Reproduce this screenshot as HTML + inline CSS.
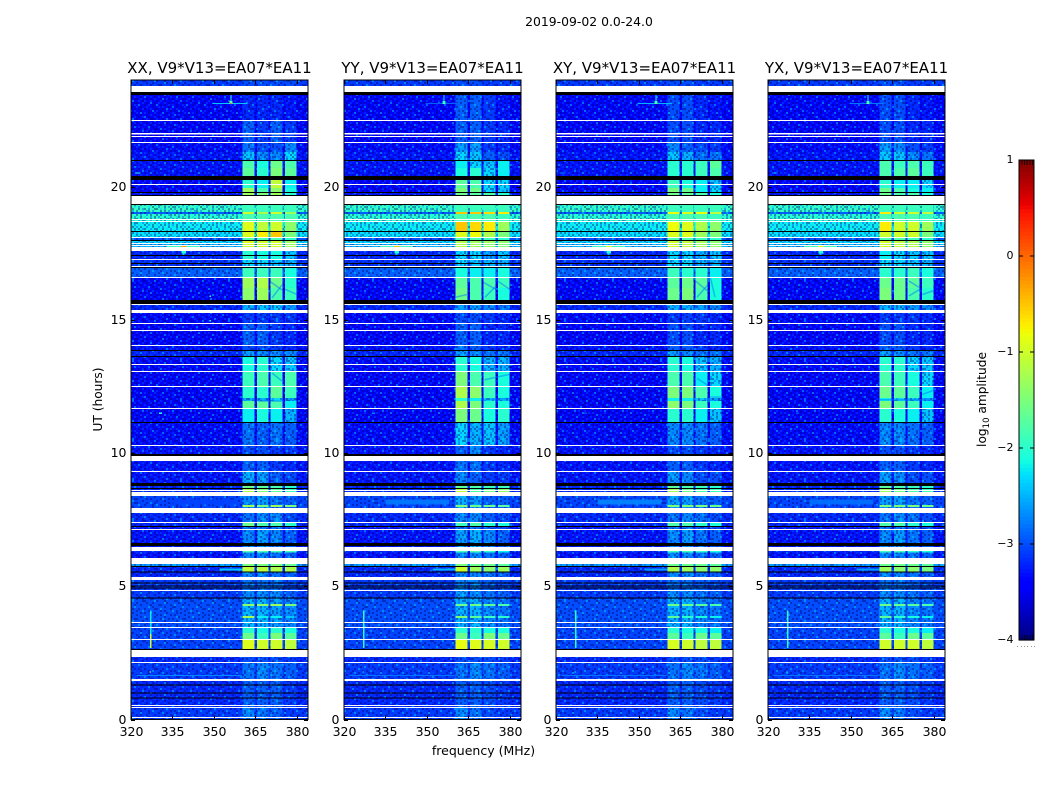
<!DOCTYPE html>
<html lang="en">
<head>
<meta charset="utf-8">
<title>2019-09-02 amplitude waterfall</title>
<style>
html,body{margin:0;padding:0;background:#fff;}
svg{display:block;}
text{font-family:"DejaVu Sans","Liberation Sans",sans-serif;fill:#000;}
</style>
</head>
<body>
<svg id="figure" xmlns="http://www.w3.org/2000/svg" width="1050" height="800" viewBox="0 0 1050 800">
  <rect x="0" y="0" width="1050" height="800" fill="#fff"/>
  <text x="589" y="26" font-size="12.4" text-anchor="middle">2019-09-02 0.0-24.0</text>
  <text x="0" y="0" font-size="12.2" text-anchor="middle" transform="translate(102 399.5) rotate(-90)">UT (hours)</text>
  <text x="483.5" y="755" font-size="12.5" text-anchor="middle">frequency (MHz)</text>
  <text x="0" y="0" font-size="12.2" text-anchor="middle" transform="translate(986 399.5) rotate(-90)">log<tspan font-size="8.5" dy="3">10</tspan><tspan dy="-3"> amplitude</tspan></text>
  <defs><pattern id="speckle" patternUnits="userSpaceOnUse" width="48" height="40"></pattern></defs>
</svg>
<script>
// ---------- chart data ----------
const panelTitles = ["XX, V9*V13=EA07*EA11","YY, V9*V13=EA07*EA11","XY, V9*V13=EA07*EA11","YX, V9*V13=EA07*EA11"];
const freqTicks = [320,335,350,365,380];
const hourTicks = [0,5,10,15,20];
const colorbarTicks = [1,0,-1,-2,-3,-4];
const blockStartMHz = [360.4,365.5,370.5,375.6];
const blockEndMHz = [364.7,369.8,374.8,379.9];
// Upper edge (UT hours) of each time row; a row runs down to the next entry.
const timeRowTop = [
24.00,23.55,22.50,21.64,21.30,20.96,20.70,20.40,20.25,19.95,
19.76,19.31,19.05,18.97,18.67,18.30,18.07,17.96,17.85,17.58,
17.25,16.95,16.57,16.20,15.74,15.56,15.26,14.84,14.06,13.83,
13.61,13.04,12.48,12.07,11.95,11.65,11.13,10.27,9.97,9.70,
9.29,8.77,8.67,8.39,8.05,7.98,7.75,7.38,7.26,7.11,
6.33,6.26,6.07,5.83,5.72,5.54,5.35,4.82,4.52,4.33,
4.26,3.88,3.81,3.43,3.25,2.99,2.65,2.12,1.44,0.43];
// log10 amplitude of the off-band background in each row.
const backgroundLevels = [
-3.1,-3.45,-3.4,-3.35,-3.3,-3.3,-3.3,-3.4,-3.4,-3.4,
-3.3,-1.95,-2.9,-2.0,-2.2,-2.25,-3.0,-2.3,-2.5,-3.2,
-3.15,-2.9,-3.4,-3.4,-3.3,-3.2,-3.35,-3.4,-3.3,-3.2,
-3.35,-3.4,-3.4,-3.4,-3.4,-3.4,-3.35,-3.3,-3.3,-3.3,
-3.3,-3.2,-3.2,-3.05,-3.05,-3.05,-3.2,-3.2,-3.3,-3.3,
-3.2,-3.3,-3.3,-2.6,-3.2,-3.2,-3.1,-3.1,-3.0,-3.0,
-3.0,-3.0,-3.0,-3.05,-3.05,-3.05,-3.2,-3.1,-3.2,-3.1];
// log10 amplitude of the four correlator sub-bands, row by row.
const blocksXX = [
[-3.0,-3.0,-3.0,-3.0],[-3.2,-3.2,-3.2,-3.3],[-2.9,-3.1,-2.9,-3.1],[-2.8,-3.0,-3.0,-2.7],[-2.4,-2.7,-2.7,-2.3],[-1.8,-2.1,-1.6,-1.8],[-1.7,-2.0,-1.5,-1.7],[-2.0,-2.2,-1.6,-2.2],[-2.0,-2.2,-1.1,-2.2],[-1.3,-1.8,-1.4,-2.1],
[-1.3,-1.5,-1.3,-2.0],[-1.9,-1.9,-1.9,-1.9],[-1.0,-1.2,-1.0,-1.3],[-1.8,-1.8,-1.8,-1.8],[-0.9,-1.1,-1.0,-1.4],[-0.9,-0.7,-0.5,-1.5],[-1.8,-1.8,-1.8,-2.0],[-0.9,-1.0,-1.0,-1.3],[-1.0,-1.0,-1.0,-1.3],[-2.0,-2.1,-2.1,-2.4],
[-2.3,-2.3,-2.4,-2.5],[-1.9,-1.9,-1.9,-2.1],[-1.3,-1.2,-1.6,-2.0],[-1.4,-1.3,-1.8,-1.9],[-2.5,-2.5,-2.5,-2.6],[-2.5,-2.4,-2.4,-2.6],[-3.1,-3.1,-3.1,-3.1],[-2.9,-2.9,-3.1,-3.2],[-3.0,-3.0,-3.1,-3.2],[-2.6,-2.7,-2.7,-2.7],
[-2.1,-2.0,-2.3,-2.4],[-1.9,-1.8,-1.9,-1.8],[-2.0,-2.0,-1.7,-1.9],[-2.5,-2.6,-2.3,-2.6],[-1.7,-1.7,-1.8,-2.2],[-2.2,-2.1,-2.2,-2.5],[-2.8,-2.9,-2.8,-2.9],[-3.0,-3.0,-3.1,-3.1],[-3.0,-3.0,-3.1,-3.1],[-2.9,-2.9,-3.1,-3.2],
[-2.5,-2.6,-2.9,-3.0],[-1.6,-1.7,-1.8,-2.0],[-1.2,-1.5,-1.7,-1.9],[-2.7,-2.6,-2.8,-2.9],[-1.3,-1.5,-1.3,-1.5],[-2.7,-2.6,-2.8,-2.9],[-2.8,-2.7,-2.7,-3.0],[-1.6,-1.8,-1.8,-2.0],[-2.8,-2.8,-2.8,-3.0],[-2.7,-2.6,-2.7,-2.9],
[-1.8,-1.8,-1.9,-1.9],[-2.7,-2.7,-2.8,-2.9],[-2.7,-2.7,-2.8,-2.9],[-1.5,-1.5,-1.5,-1.6],[-1.1,-1.1,-1.2,-1.2],[-2.7,-2.7,-2.8,-2.9],[-2.8,-2.8,-2.8,-3.0],[-2.7,-2.7,-2.7,-2.9],[-2.5,-2.5,-2.6,-2.7],[-1.4,-1.4,-1.3,-1.5],
[-2.5,-2.5,-2.6,-2.7],[-1.3,-2.2,-2.2,-2.4],[-2.5,-2.5,-2.6,-2.7],[-2.0,-2.1,-2.0,-2.1],[-1.6,-1.9,-1.5,-1.7],[-0.9,-1.0,-1.0,-1.1],[-3.0,-3.0,-3.0,-3.1],[-2.8,-2.7,-2.8,-2.9],[-2.9,-2.9,-2.9,-3.1],[-2.7,-2.8,-2.9,-3.1]];
const blocksYY = [
[-3.0,-3.0,-3.1,-3.1],[-2.9,-2.9,-3.1,-3.3],[-2.9,-2.9,-3.1,-3.2],[-2.6,-2.6,-3.1,-3.2],[-2.3,-2.4,-2.9,-3.0],[-2.2,-2.3,-2.4,-2.2],[-2.1,-2.0,-2.3,-2.2],[-2.1,-2.2,-2.3,-2.3],[-1.7,-1.8,-2.3,-2.3],[-1.5,-1.6,-2.3,-2.4],
[-1.6,-1.7,-1.8,-2.0],[-1.9,-1.9,-1.9,-1.9],[-0.5,-0.5,-0.6,-0.7],[-1.8,-1.8,-1.8,-1.9],[-0.5,-0.6,-0.7,-1.3],[-0.9,-0.8,-1.2,-1.5],[-1.8,-1.8,-1.9,-2.0],[-1.2,-1.3,-1.3,-1.4],[-1.2,-1.3,-1.4,-1.5],[-2.3,-2.3,-2.6,-2.4],
[-2.3,-2.4,-2.5,-2.5],[-2.1,-2.2,-2.2,-2.1],[-1.7,-1.8,-1.8,-1.9],[-1.6,-1.8,-1.9,-2.1],[-2.5,-2.5,-2.6,-2.6],[-2.6,-2.6,-2.7,-2.8],[-3.0,-3.0,-3.1,-3.2],[-2.9,-2.9,-3.2,-3.2],[-2.8,-2.9,-3.1,-3.2],[-2.6,-2.7,-2.8,-2.8],
[-2.0,-2.1,-2.5,-2.5],[-1.5,-1.8,-1.9,-2.1],[-1.2,-1.4,-1.9,-2.1],[-2.0,-2.2,-2.3,-2.5],[-1.2,-1.5,-2.0,-2.1],[-1.5,-1.6,-2.1,-2.0],[-2.3,-2.5,-2.4,-2.6],[-2.9,-2.7,-3.1,-3.2],[-2.9,-2.7,-3.1,-3.2],[-2.8,-2.8,-3.1,-3.2],
[-2.7,-2.9,-3.1,-3.1],[-1.7,-1.8,-1.9,-1.9],[-1.1,-1.8,-1.6,-1.4],[-2.5,-2.6,-2.9,-2.9],[-1.5,-1.6,-1.6,-1.7],[-2.5,-2.6,-2.9,-2.9],[-2.7,-2.7,-2.9,-3.0],[-1.9,-1.8,-2.0,-2.1],[-2.8,-2.8,-2.9,-3.0],[-2.6,-2.5,-2.7,-2.9],
[-1.9,-1.8,-2.0,-2.2],[-2.7,-2.7,-2.8,-2.9],[-2.7,-2.7,-2.8,-2.9],[-1.5,-1.6,-1.6,-1.7],[-1.0,-1.3,-1.4,-1.3],[-2.7,-2.7,-2.8,-2.9],[-2.7,-2.7,-2.9,-3.0],[-2.6,-2.7,-2.8,-2.9],[-2.5,-2.5,-2.7,-2.8],[-1.6,-1.6,-1.7,-1.8],
[-2.5,-2.5,-2.7,-2.8],[-1.5,-1.7,-1.9,-2.0],[-2.5,-2.5,-2.7,-2.8],[-2.0,-2.0,-2.1,-2.1],[-1.6,-1.9,-1.5,-1.6],[-0.85,-0.9,-0.95,-1.0],[-3.0,-3.0,-3.0,-3.1],[-2.8,-2.7,-2.8,-2.9],[-2.9,-2.9,-3.0,-3.1],[-2.7,-2.8,-3.0,-3.1]];
const blocksXY = [
[-3.0,-3.0,-3.1,-3.1],[-3.0,-3.0,-3.2,-3.3],[-3.0,-3.0,-3.2,-3.2],[-2.7,-2.9,-3.0,-3.1],[-2.4,-2.5,-2.8,-2.8],[-2.0,-2.0,-1.9,-1.7],[-2.0,-2.0,-1.9,-1.8],[-2.1,-2.1,-2.2,-2.3],[-1.9,-2.1,-2.2,-2.4],[-1.5,-1.6,-2.2,-2.3],
[-1.6,-1.7,-1.8,-2.1],[-1.9,-1.9,-1.9,-1.9],[-0.8,-0.9,-0.8,-1.1],[-1.8,-1.8,-1.8,-1.9],[-0.8,-0.9,-1.2,-1.4],[-0.9,-0.9,-1.3,-1.5],[-1.8,-1.8,-1.9,-2.0],[-1.0,-1.1,-1.3,-1.4],[-1.0,-1.1,-1.3,-1.4],[-2.3,-2.3,-2.5,-2.4],
[-2.3,-2.3,-2.5,-2.5],[-1.9,-2.0,-2.0,-2.2],[-1.7,-1.6,-1.7,-2.1],[-1.6,-1.5,-1.8,-2.1],[-2.5,-2.5,-2.5,-2.6],[-2.5,-2.5,-2.6,-2.7],[-3.1,-3.1,-3.1,-3.2],[-3.0,-3.0,-3.2,-3.2],[-2.9,-2.9,-3.1,-3.2],[-2.6,-2.7,-2.8,-2.8],
[-2.0,-2.1,-2.4,-2.5],[-1.8,-1.8,-2.2,-2.3],[-1.5,-1.5,-1.8,-2.1],[-2.2,-2.2,-2.4,-2.6],[-1.4,-1.5,-1.9,-2.1],[-2.0,-2.0,-2.2,-2.4],[-2.7,-2.7,-2.8,-2.9],[-3.0,-3.0,-3.1,-3.2],[-3.0,-3.0,-3.1,-3.2],[-2.9,-2.9,-3.1,-3.2],
[-2.6,-2.7,-3.0,-3.0],[-1.7,-1.8,-1.9,-2.0],[-1.3,-1.6,-1.8,-1.9],[-2.6,-2.6,-2.8,-2.9],[-1.5,-1.5,-1.5,-1.6],[-2.6,-2.6,-2.8,-2.9],[-2.8,-2.7,-2.8,-3.0],[-1.8,-1.8,-2.0,-2.1],[-2.8,-2.8,-2.9,-3.0],[-2.7,-2.6,-2.8,-2.9],
[-1.9,-1.9,-2.0,-2.1],[-2.7,-2.7,-2.8,-2.9],[-2.7,-2.7,-2.8,-2.9],[-1.6,-1.6,-1.6,-1.7],[-1.2,-1.3,-1.4,-1.4],[-2.7,-2.7,-2.8,-2.9],[-2.8,-2.8,-2.9,-3.0],[-2.7,-2.7,-2.8,-2.9],[-2.5,-2.5,-2.7,-2.8],[-1.6,-1.6,-1.7,-1.8],
[-2.5,-2.5,-2.7,-2.8],[-1.7,-2.0,-2.1,-2.2],[-2.5,-2.5,-2.7,-2.8],[-2.0,-2.1,-2.1,-2.2],[-1.7,-1.9,-1.6,-1.7],[-0.95,-1.0,-1.1,-1.1],[-3.0,-3.0,-3.0,-3.1],[-2.8,-2.7,-2.8,-2.9],[-2.9,-2.9,-3.0,-3.1],[-2.7,-2.8,-3.0,-3.1]];
const blocksYX = [
[-3.0,-3.0,-3.1,-3.1],[-3.0,-3.0,-3.2,-3.3],[-3.0,-3.0,-3.2,-3.2],[-2.6,-2.7,-3.0,-3.1],[-2.4,-2.4,-2.7,-2.8],[-1.8,-1.9,-1.8,-1.9],[-1.8,-1.8,-1.7,-1.9],[-2.0,-2.1,-2.1,-2.2],[-2.0,-2.2,-2.2,-2.3],[-1.6,-1.8,-2.1,-2.2],
[-1.6,-1.8,-1.8,-2.1],[-1.9,-1.9,-1.9,-1.9],[-0.7,-1.0,-1.0,-1.1],[-1.8,-1.8,-1.8,-1.9],[-0.7,-1.0,-1.0,-1.3],[-1.0,-1.0,-1.0,-1.5],[-1.8,-1.8,-1.9,-2.0],[-1.0,-1.1,-1.2,-1.4],[-1.0,-1.1,-1.2,-1.4],[-2.2,-2.3,-2.4,-2.4],
[-2.3,-2.3,-2.4,-2.5],[-2.0,-2.0,-1.9,-2.1],[-1.6,-1.6,-1.7,-1.9],[-1.5,-1.6,-1.8,-2.0],[-2.5,-2.5,-2.5,-2.6],[-2.5,-2.5,-2.6,-2.7],[-3.1,-3.1,-3.1,-3.2],[-3.0,-3.0,-3.2,-3.2],[-2.9,-2.9,-3.1,-3.2],[-2.6,-2.7,-2.8,-2.8],
[-2.0,-2.0,-2.3,-2.4],[-1.8,-1.9,-2.1,-2.3],[-1.6,-1.7,-1.9,-2.2],[-2.2,-2.3,-2.4,-2.6],[-1.5,-1.7,-1.9,-2.2],[-2.0,-2.1,-2.2,-2.4],[-2.7,-2.7,-2.8,-2.9],[-3.0,-3.0,-3.1,-3.2],[-3.0,-3.0,-3.1,-3.2],[-2.9,-2.9,-3.1,-3.2],
[-2.6,-2.7,-3.0,-3.0],[-1.7,-1.8,-1.9,-2.0],[-1.3,-1.6,-1.8,-1.9],[-2.6,-2.6,-2.8,-2.9],[-1.5,-1.5,-1.5,-1.6],[-2.6,-2.6,-2.8,-2.9],[-2.8,-2.7,-2.8,-3.0],[-1.8,-1.8,-2.0,-2.1],[-2.8,-2.8,-2.9,-3.0],[-2.7,-2.6,-2.8,-2.9],
[-1.9,-1.9,-2.0,-2.1],[-2.7,-2.7,-2.8,-2.9],[-2.7,-2.7,-2.8,-2.9],[-1.6,-1.6,-1.6,-1.7],[-1.3,-1.4,-1.4,-1.5],[-2.7,-2.7,-2.8,-2.9],[-2.8,-2.8,-2.9,-3.0],[-2.7,-2.7,-2.8,-2.9],[-2.5,-2.5,-2.7,-2.8],[-1.6,-1.6,-1.7,-1.8],
[-2.5,-2.5,-2.7,-2.8],[-1.7,-2.0,-2.1,-2.2],[-2.5,-2.5,-2.7,-2.8],[-2.0,-2.1,-2.1,-2.2],[-1.7,-1.9,-1.6,-1.7],[-1.0,-1.0,-1.0,-1.1],[-3.0,-3.0,-3.0,-3.1],[-2.8,-2.7,-2.8,-2.9],[-2.9,-2.9,-3.0,-3.1],[-2.7,-2.8,-3.0,-3.1]];
// [top hour, bottom hour] of flagged (blank) integrations.
const blankRows = [
[23.77,23.55],[22.50,22.46],[22.01,21.95],[21.90,21.86],[21.67,21.63],[20.10,20.06],[19.65,19.35],[18.78,18.74],[18.71,18.67],[18.11,18.07],
[17.88,17.84],[17.81,17.77],[17.73,17.58],[17.28,17.24],[17.02,16.98],[16.61,16.57],[15.59,15.55],[15.36,15.32],[15.31,15.26],[14.88,14.84],
[14.62,14.58],[14.06,14.02],[13.34,13.30],[13.08,13.04],[12.52,12.48],[11.69,11.65],[10.30,10.26],[9.89,9.70],[9.32,9.28],[8.62,8.58],
[8.54,8.39],[7.94,7.75],[7.41,7.37],[7.15,7.11],[6.48,6.33],[6.06,5.83],[5.35,5.24],[4.86,4.82],[3.66,3.62],[3.47,3.43],
[3.02,2.98],[2.61,2.35],[2.16,2.12],[1.52,1.44],[0.55,0.51],[0.47,0.43],[0.10,0.06]];
// [top hour, bottom hour] of zero-amplitude (black) integrations.
const zeroRows = [
[23.55,23.44],[21.00,20.96],[20.40,20.25],[19.80,19.76],[19.69,19.65],[19.35,19.31],[18.33,18.29],[18.00,17.96],[17.44,17.40],[17.13,17.09],
[16.98,16.94],[15.74,15.59],[13.87,13.83],[13.64,13.60],[11.17,11.13],[9.97,9.89],[8.88,8.77],[8.69,8.65],[7.26,7.22],[6.63,6.52],
[5.76,5.72],[5.55,5.51],[5.14,5.10],[5.03,4.99],[4.95,4.91],[4.58,4.54],[2.65,2.61],[1.31,1.27],[1.01,0.97],[0.83,0.79]];
// Narrow RFI: [start MHz, end MHz, top hour, bottom hour, XX, YY, XY, YX log10 amp].
const rfiFeatures = [
[349.5,362,23.13,23.09,-2.4,-2.9,-2.5,-2.8],
[356.0,356.4,23.46,23.09,-2.0,-2.2,-2.1,-2.1],
[355.7,356.7,23.22,23.09,-1.6,-2.0,-1.9,-1.9],
[356.0,356.4,23.13,23.09,0.3,-1.3,-1.3,-1.3],
[321.5,323.5,20.52,20.49,-2.2,-3.0,-2.7,-2.7],
[333.0,345.0,17.77,17.73,-1.9,-1.9,-1.9,-1.9],
[338.0,340.0,17.77,17.73,-0.3,-0.5,-0.9,-0.9],
[338.2,339.8,17.58,17.48,-2.0,-2.0,-2.0,-2.0],
[338.7,339.3,17.48,17.42,-2.4,-2.4,-2.4,-2.4],
[326.9,327.4,4.10,3.20,-2.2,-2.0,-2.0,-2.0],
[326.9,327.4,3.20,2.68,-1.0,-2.0,-2.0,-2.0],
[348.3,349.0,15.92,15.85,-1.9,-2.9,-2.9,-2.9],
[348.3,349.0,15.00,14.94,-2.0,-3.0,-3.0,-3.0],
[330.2,331.2,11.52,11.47,-2.0,-2.7,-3.0,-3.0],
[326.7,327.3,1.80,1.76,-1.0,-2.2,-2.2,-2.2],
[322.0,360.0,1.67,1.64,-2.7,-2.8,-2.8,-2.8],
[335.0,358.0,8.26,8.06,-3.05,-2.8,-2.75,-2.85],
[352.0,360.4,5.66,5.60,-2.4,-2.5,-2.6,-2.6]];
// Dark drifting streaks in the bands: [panel index, MHz, hour, MHz, hour].
const bandStreaks = [
[0,370.4,16.43,374.6,16.12],[0,371.0,15.82,374.6,16.31],[0,375.7,16.15,380.0,15.95],[0,371.0,13.00,374.6,12.70],[0,366.0,11.95,374.6,11.95],
[1,370.5,16.40,374.8,16.15],[1,371.0,15.85,374.8,16.25],[1,375.7,16.45,379.8,16.15],[1,360.5,15.85,364.5,15.95],[1,370.8,12.75,379.8,12.95],[1,370.8,12.00,379.8,12.05],
[2,370.5,16.45,374.6,16.10],[2,371.0,15.85,374.8,16.30],[2,375.8,16.60,377.5,15.85],[2,371.0,12.80,374.8,12.55],[2,375.8,12.10,379.8,12.10],
[3,371.0,16.45,375.0,16.20],[3,371.0,15.90,375.0,16.15],[3,375.8,15.95,380.0,16.10],[3,375.8,12.20,379.8,12.35],[3,360.5,12.00,379.8,12.00]];
// Hand-read residual speckle tile: . none, d low, b high, c very high.
const speckleTile = [
"d.b..cd.b.d..b.dd.c..b.d",
".d.bd..b..cd.b...d.bd.b.",
"b..d.b.dd.b..d.cb..d..d.",
"..c.d..b..d.b.dd.b.c.b..",
"d.b..dd.c.b..d.b..d..d.b",
".bd.b...d.d.b.c.d.b.d..c",
"d..c.db.b..d..b.d.d.b.d.",
".b.d..d.d.c.bd.d.b..d.b.",
"c..b.d.b..d..b..cd.b..d.",
".d.d.b..dc.bd.d.b..dd.b.",
"b..b..d.b.d...b.d.c..b.d",
".d.c.d.b..b.d.d..b.dd..b",
"d.b.d.c.d.d.b.b.d..b.c..",
".b..d..b.b..d.c.d.d.b.d.",
"d..b.dd..d.c.b..b..d.d.b",
"..d.c.b.d..b.d.d.c.b..d.",
"b.d..b.d.c.d..b.d.d.b.c.",
".d.b.d..b.d.bd.c.b..d.d.",
"c.d..b.d.b..d.b.dd.b.d.b",
".b.dd.b..d.c.d..b.c.d..d"];
// ---------- axes ----------
const NS = "http://www.w3.org/2000/svg";
const svg = document.getElementById("figure");
const panelLeft = [131,344,556,768];
const panelWidth = 177, panelTop = 80, panelBottom = 719.5;
const panelBlocks = [blocksXX,blocksYY,blocksXY,blocksYX];
const freqMin = 320, freqMax = 384, hourMax = 24;
const smoothBandFloor = -2.2;
function xScale(p,f){return panelLeft[p]+(f-freqMin)/(freqMax-freqMin)*panelWidth;}
function yScale(h){return panelBottom-h/hourMax*(panelBottom-panelTop);}
function lerp(v,pts){
  for(let i=1;i<pts.length;i++){
    if(v<=pts[i][0]){
      const a=pts[i-1],b=pts[i];
      return a[1]+(b[1]-a[1])*(v-a[0])/(b[0]-a[0]);
    }
  }
  return pts[pts.length-1][1];
}
function jet(level){
  const t=Math.max(0,Math.min(1,(level+4)/5));
  const r=lerp(t,[[0,0],[.35,0],[.66,1],[.89,1],[1,.5]]);
  const g=lerp(t,[[0,0],[.125,0],[.375,1],[.64,1],[.91,0],[1,0]]);
  const b=lerp(t,[[0,.5],[.11,1],[.34,1],[.65,0],[1,0]]);
  return "rgb("+Math.round(r*255)+","+Math.round(g*255)+","+Math.round(b*255)+")";
}
function node(tag,parent,attrs){
  const el=document.createElementNS(NS,tag);
  for(const k in attrs){el.setAttribute(k,attrs[k]);}
  parent.appendChild(el);
  return el;
}
function cell(parent,x0,x1,y0,y1,fill){
  const el=node("rect",parent,{x:x0,y:y0,width:x1-x0,height:y1-y0,fill:fill,"shape-rendering":"crispEdges"});
  return el;
}
// speckle pattern
const pattern=document.getElementById("speckle");
const speckleFill={d:"rgba(0,0,110,0.4)",b:"rgba(0,80,255,0.45)",c:"rgba(0,205,255,0.5)"};
speckleTile.forEach(function(line,r){
  for(let c=0;c<line.length;c++){
    const ch=line.charAt(c);
    if(ch==="."){continue;}
    const s=cell(pattern,c*2,c*2+2,r*2,r*2+2,speckleFill[ch]);
    
    
  }
});
// panels
panelTitles.forEach(function(title,p){
  const g=node("g",svg,{});
  
  
  const blocks=panelBlocks[p];
  const left=xScale(p,freqMin), right=left+panelWidth;
  function rowBottom(i){return i+1<timeRowTop.length?timeRowTop[i+1]:0;}
  // off-band background
  timeRowTop.forEach(function(top,i){
    const c=cell(g,left,right,yScale(top),yScale(rowBottom(i)),jet(backgroundLevels[i]));
    
    
  });
  // faint bands sit under the speckle
  timeRowTop.forEach(function(top,i){
    blocks[i].forEach(function(v,b){
      if(v>=smoothBandFloor){return;}
      const c=cell(g,xScale(p,blockStartMHz[b]),xScale(p,blockEndMHz[b]),yScale(top),yScale(rowBottom(i)),jet(v));
      
      
    });
  });
  const noise=node("rect",g,{x:left,y:panelTop,width:panelWidth,height:panelBottom-panelTop,fill:"url(#speckle)"});
  
  
  // strong bands are smooth, above the speckle
  timeRowTop.forEach(function(top,i){
    blocks[i].forEach(function(v,b){
      if(v<smoothBandFloor){return;}
      const c=cell(g,xScale(p,blockStartMHz[b]),xScale(p,blockEndMHz[b]),yScale(top),yScale(rowBottom(i)),jet(v));
      
      
    });
  });
  bandStreaks.forEach(function(s){
    if(s[0]!==p){return;}
    const l=node("line",g,{x1:xScale(p,s[1]),y1:yScale(s[2]),x2:xScale(p,s[3]),y2:yScale(s[4]),stroke:jet(-2.8),"stroke-width":1.5,"stroke-opacity":0.5});
    
    
  });
  rfiFeatures.forEach(function(f){
    const c=cell(g,xScale(p,f[0]),xScale(p,f[1]),yScale(f[2]),yScale(f[3]),jet(f[4+p]));
    
    
  });
  zeroRows.forEach(function(r){
    const c=cell(g,left,right,yScale(r[0]),yScale(r[1]),"#000");
    
    
  });
  blankRows.forEach(function(r){
    const c=cell(g,left,right,yScale(r[0]),yScale(r[1]),"#fff");
    
    
  });
  // frame
  const frame=node("rect",g,{x:left,y:panelTop,width:panelWidth,height:panelBottom-panelTop,fill:"none",stroke:"#000","stroke-width":1});
  
  
  // x ticks
  freqTicks.forEach(function(f){
    const x=Math.round(xScale(p,f))+0.5;
    const t1=node("line",g,{x1:x,x2:x,y1:panelBottom,y2:panelBottom-4,stroke:"#000"});
    
    
    const t2=node("line",g,{x1:x,x2:x,y1:panelTop,y2:panelTop+4,stroke:"#000"});
    
    
    const label=node("text",g,{x:x,y:736,"font-size":12.5,"text-anchor":"middle"});
    label.textContent=String(f);
    
    
  });
  // y ticks
  hourTicks.forEach(function(h){
    const y=Math.round(yScale(h))+0.5;
    const t1=node("line",g,{x1:left,x2:left+4,y1:y,y2:y,stroke:"#000"});
    
    
    const t2=node("line",g,{x1:right,x2:right-4,y1:y,y2:y,stroke:"#000"});
    
    
    const label=node("text",g,{x:left-4.5,y:y+3.5,"font-size":12.5,"text-anchor":"end"});
    label.textContent=String(h);
    
    
  });
  const titleEl=node("text",g,{x:left+panelWidth/2,y:73,"font-size":15,"text-anchor":"middle"});
  titleEl.textContent=title;
  
  
});
// colorbar
const cbLeft=1019, cbRight=1034, cbTop=160, cbBottom=640;
function cbScale(v){return cbBottom-(v+4)/5*(cbBottom-cbTop);}
const cb=node("g",svg,{});


for(let i=0;i<128;i++){
  const lo=-4+5*i/128, hi=-4+5*(i+1)/128;
  const c=node("rect",cb,{x:cbLeft,width:cbRight-cbLeft,y:cbScale(hi),height:cbScale(lo)-cbScale(hi)+0.6,fill:jet((lo+hi)/2)});
  
  
}
[3,5.5,8,11,13.5].forEach(function(dx){
  const a=node("line",cb,{x1:cbLeft+dx,x2:cbLeft+dx,y1:cbTop,y2:cbTop+5,stroke:"#000","stroke-width":0.8});
  
  
  const b=node("line",cb,{x1:cbLeft+dx,x2:cbLeft+dx,y1:cbBottom,y2:cbBottom-5,stroke:"#000","stroke-width":0.8});
  
  
});
[-2,2,5,8,12,15].forEach(function(dx){
  const d=node("rect",cb,{x:cbLeft+dx,y:646,width:1,height:1,fill:"#999"});
  
  
});
const cbFrame=node("rect",cb,{x:cbLeft,y:cbTop,width:cbRight-cbLeft,height:cbBottom-cbTop,fill:"none",stroke:"#000","stroke-width":1});


colorbarTicks.forEach(function(v){
  const y=cbScale(v);
  const a=node("line",cb,{x1:cbLeft,x2:cbLeft+4,y1:y,y2:y,stroke:"#000"});
  
  
  const b=node("line",cb,{x1:cbRight,x2:cbRight-4,y1:y,y2:y,stroke:"#000"});
  
  
  const label=node("text",cb,{x:1013.5,y:y+3,"font-size":11,"text-anchor":"end"});
  label.textContent=(v<0?"\u2212"+(-v):String(v));
  
  
});
</script>
</body>
</html>
